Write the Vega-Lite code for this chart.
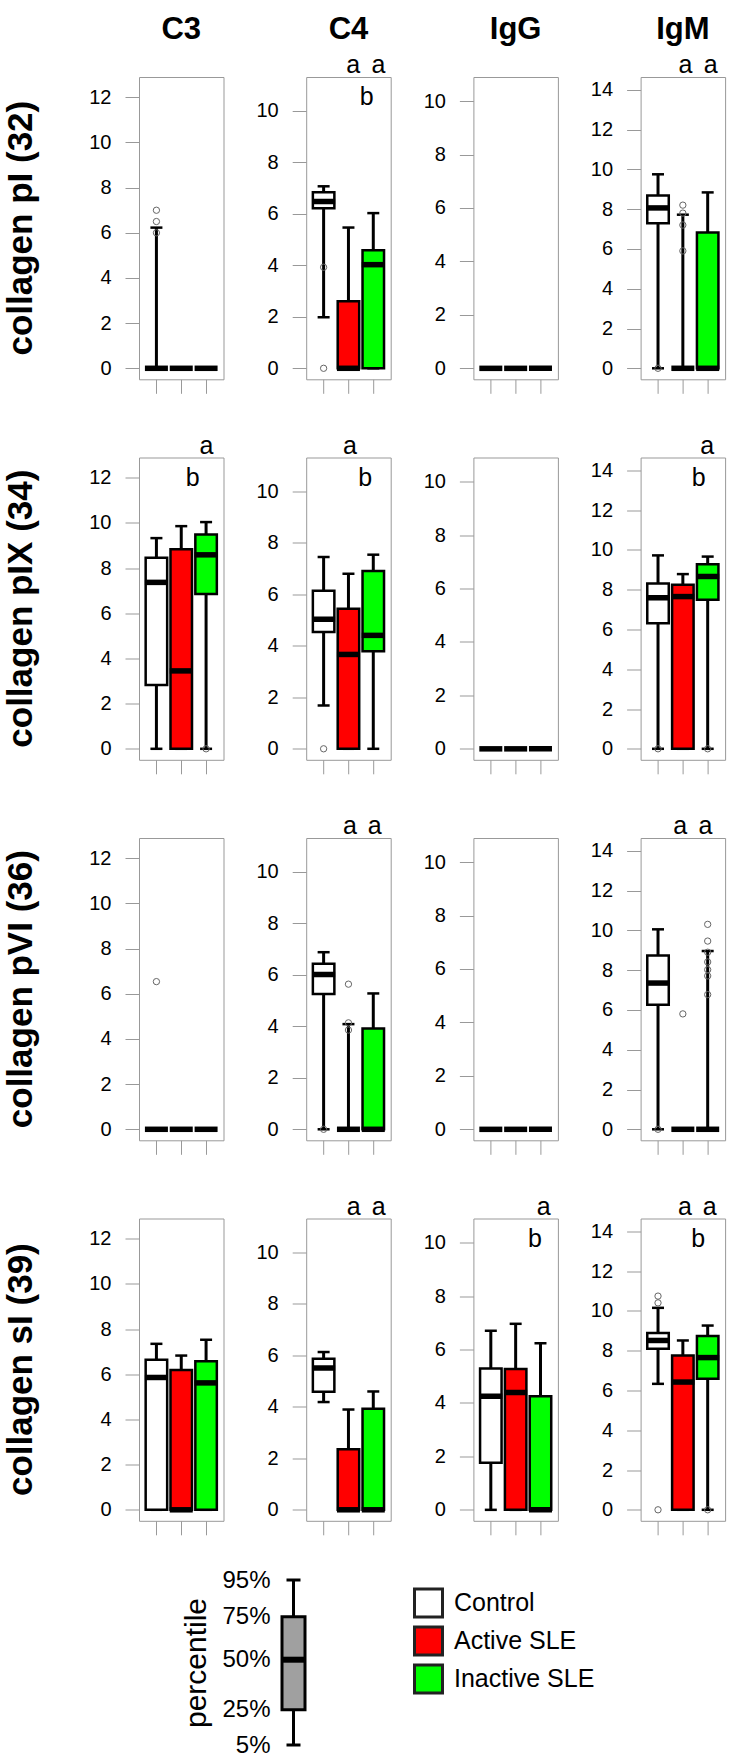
{
  "$schema": "https://vega.github.io/schema/vega-lite/v6.json",
  "padding": {"left": 3, "top": 14, "right": 4, "bottom": 8},
  "spacing": 32,
  "config": {
    "font": "Liberation Sans",
    "view": {"stroke": "#999999", "strokeWidth": 1},
    "axis": {"grid": false, "domain": false, "tickColor": "#999999", "tickSize": 14, "labelFontSize": 20, "labelColor": "black", "labelPadding": 14, "labelFont": "Liberation Sans"},
    "header": {"labelFont": "Liberation Sans", "labelColor": "black"},
    "tick": {"opacity": 1},
    "point": {"opacity": 1}
  },
  "vconcat": [
    {
      "data": {"values": [
        {"k":"box","ab":"C3","c":"collagen pI (32)","grp":"Control","x":1,"lo":0,"q1":0,"med":0,"q3":0,"hi":6.23},
        {"k":"box","ab":"C3","c":"collagen pI (32)","grp":"Active SLE","x":2,"lo":0,"q1":0,"med":0,"q3":0,"hi":0},
        {"k":"box","ab":"C3","c":"collagen pI (32)","grp":"Inactive SLE","x":3,"lo":0,"q1":0,"med":0,"q3":0,"hi":0},
        {"k":"box","ab":"C3","c":"collagen pIX (34)","grp":"Control","x":1,"lo":0,"q1":2.82,"med":7.37,"q3":8.46,"hi":9.33},
        {"k":"box","ab":"C3","c":"collagen pIX (34)","grp":"Active SLE","x":2,"lo":0,"q1":0,"med":3.45,"q3":8.84,"hi":9.86},
        {"k":"box","ab":"C3","c":"collagen pIX (34)","grp":"Inactive SLE","x":3,"lo":0,"q1":6.85,"med":8.59,"q3":9.49,"hi":10.04},
        {"k":"box","ab":"C3","c":"collagen pVI (36)","grp":"Control","x":1,"lo":0,"q1":0,"med":0,"q3":0,"hi":0},
        {"k":"box","ab":"C3","c":"collagen pVI (36)","grp":"Active SLE","x":2,"lo":0,"q1":0,"med":0,"q3":0,"hi":0},
        {"k":"box","ab":"C3","c":"collagen pVI (36)","grp":"Inactive SLE","x":3,"lo":0,"q1":0,"med":0,"q3":0,"hi":0},
        {"k":"box","ab":"C3","c":"collagen sI (39)","grp":"Control","x":1,"lo":0,"q1":0,"med":5.86,"q3":6.64,"hi":7.35},
        {"k":"box","ab":"C3","c":"collagen sI (39)","grp":"Active SLE","x":2,"lo":0,"q1":0,"med":0,"q3":6.19,"hi":6.83},
        {"k":"box","ab":"C3","c":"collagen sI (39)","grp":"Inactive SLE","x":3,"lo":0,"q1":0,"med":5.62,"q3":6.58,"hi":7.53},

        {"k":"box","ab":"C4","c":"collagen pI (32)","grp":"Control","x":1,"lo":1.98,"q1":6.21,"med":6.47,"q3":6.83,"hi":7.06},
        {"k":"box","ab":"C4","c":"collagen pI (32)","grp":"Active SLE","x":2,"lo":0,"q1":0,"med":0,"q3":2.6,"hi":5.46},
        {"k":"box","ab":"C4","c":"collagen pI (32)","grp":"Inactive SLE","x":3,"lo":0,"q1":0,"med":4.02,"q3":4.58,"hi":6.02},
        {"k":"box","ab":"C4","c":"collagen pIX (34)","grp":"Control","x":1,"lo":1.68,"q1":4.53,"med":5.03,"q3":6.13,"hi":7.44},
        {"k":"box","ab":"C4","c":"collagen pIX (34)","grp":"Active SLE","x":2,"lo":0,"q1":0,"med":3.66,"q3":5.43,"hi":6.79},
        {"k":"box","ab":"C4","c":"collagen pIX (34)","grp":"Inactive SLE","x":3,"lo":0,"q1":3.78,"med":4.4,"q3":6.9,"hi":7.53},
        {"k":"box","ab":"C4","c":"collagen pVI (36)","grp":"Control","x":1,"lo":0,"q1":5.25,"med":6.0,"q3":6.42,"hi":6.87},
        {"k":"box","ab":"C4","c":"collagen pVI (36)","grp":"Active SLE","x":2,"lo":0,"q1":0,"med":0,"q3":0,"hi":4.08},
        {"k":"box","ab":"C4","c":"collagen pVI (36)","grp":"Inactive SLE","x":3,"lo":0,"q1":0,"med":0,"q3":3.91,"hi":5.27},
        {"k":"box","ab":"C4","c":"collagen sI (39)","grp":"Control","x":1,"lo":4.18,"q1":4.58,"med":5.5,"q3":5.86,"hi":6.12},
        {"k":"box","ab":"C4","c":"collagen sI (39)","grp":"Active SLE","x":2,"lo":0,"q1":0,"med":0,"q3":2.35,"hi":3.89},
        {"k":"box","ab":"C4","c":"collagen sI (39)","grp":"Inactive SLE","x":3,"lo":0,"q1":0,"med":0,"q3":3.92,"hi":4.59},

        {"k":"box","ab":"IgG","c":"collagen pI (32)","grp":"Control","x":1,"lo":0,"q1":0,"med":0,"q3":0,"hi":0},
        {"k":"box","ab":"IgG","c":"collagen pI (32)","grp":"Active SLE","x":2,"lo":0,"q1":0,"med":0,"q3":0,"hi":0},
        {"k":"box","ab":"IgG","c":"collagen pI (32)","grp":"Inactive SLE","x":3,"lo":0,"q1":0,"med":0,"q3":0,"hi":0},
        {"k":"box","ab":"IgG","c":"collagen pIX (34)","grp":"Control","x":1,"lo":0,"q1":0,"med":0,"q3":0,"hi":0},
        {"k":"box","ab":"IgG","c":"collagen pIX (34)","grp":"Active SLE","x":2,"lo":0,"q1":0,"med":0,"q3":0,"hi":0},
        {"k":"box","ab":"IgG","c":"collagen pIX (34)","grp":"Inactive SLE","x":3,"lo":0,"q1":0,"med":0,"q3":0,"hi":0},
        {"k":"box","ab":"IgG","c":"collagen pVI (36)","grp":"Control","x":1,"lo":0,"q1":0,"med":0,"q3":0,"hi":0},
        {"k":"box","ab":"IgG","c":"collagen pVI (36)","grp":"Active SLE","x":2,"lo":0,"q1":0,"med":0,"q3":0,"hi":0},
        {"k":"box","ab":"IgG","c":"collagen pVI (36)","grp":"Inactive SLE","x":3,"lo":0,"q1":0,"med":0,"q3":0,"hi":0},
        {"k":"box","ab":"IgG","c":"collagen sI (39)","grp":"Control","x":1,"lo":0,"q1":1.76,"med":4.25,"q3":5.29,"hi":6.7},
        {"k":"box","ab":"IgG","c":"collagen sI (39)","grp":"Active SLE","x":2,"lo":0,"q1":0,"med":4.39,"q3":5.27,"hi":6.96},
        {"k":"box","ab":"IgG","c":"collagen sI (39)","grp":"Inactive SLE","x":3,"lo":0,"q1":0,"med":0,"q3":4.25,"hi":6.23},

        {"k":"box","ab":"IgM","c":"collagen pI (32)","grp":"Control","x":1,"lo":0,"q1":7.29,"med":8.06,"q3":8.68,"hi":9.75},
        {"k":"box","ab":"IgM","c":"collagen pI (32)","grp":"Active SLE","x":2,"lo":0,"q1":0,"med":0,"q3":0,"hi":7.72},
        {"k":"box","ab":"IgM","c":"collagen pI (32)","grp":"Inactive SLE","x":3,"lo":0,"q1":0,"med":0,"q3":6.83,"hi":8.84},
        {"k":"box","ab":"IgM","c":"collagen pIX (34)","grp":"Control","x":1,"lo":0,"q1":6.31,"med":7.59,"q3":8.31,"hi":9.72},
        {"k":"box","ab":"IgM","c":"collagen pIX (34)","grp":"Active SLE","x":2,"lo":0,"q1":0,"med":7.65,"q3":8.24,"hi":8.78},
        {"k":"box","ab":"IgM","c":"collagen pIX (34)","grp":"Inactive SLE","x":3,"lo":0,"q1":7.49,"med":8.66,"q3":9.28,"hi":9.66},
        {"k":"box","ab":"IgM","c":"collagen pVI (36)","grp":"Control","x":1,"lo":0,"q1":6.26,"med":7.35,"q3":8.73,"hi":10.05},
        {"k":"box","ab":"IgM","c":"collagen pVI (36)","grp":"Active SLE","x":2,"lo":0,"q1":0,"med":0,"q3":0,"hi":0},
        {"k":"box","ab":"IgM","c":"collagen pVI (36)","grp":"Inactive SLE","x":3,"lo":0,"q1":0,"med":0,"q3":0,"hi":8.96},
        {"k":"box","ab":"IgM","c":"collagen sI (39)","grp":"Control","x":1,"lo":6.33,"q1":8.09,"med":8.51,"q3":8.88,"hi":10.15},
        {"k":"box","ab":"IgM","c":"collagen sI (39)","grp":"Active SLE","x":2,"lo":0,"q1":0,"med":6.42,"q3":7.76,"hi":8.51},
        {"k":"box","ab":"IgM","c":"collagen sI (39)","grp":"Inactive SLE","x":3,"lo":0,"q1":6.58,"med":7.65,"q3":8.73,"hi":9.26},

        {"k":"out","ab":"C3","c":"collagen pI (32)","x":1,"v":7.0},
        {"k":"out","ab":"C3","c":"collagen pI (32)","x":1,"v":6.5},
        {"k":"out","ab":"C3","c":"collagen pI (32)","x":1,"v":6.0},
        {"k":"out","ab":"C3","c":"collagen pIX (34)","x":3,"v":0},
        {"k":"out","ab":"C3","c":"collagen pVI (36)","x":1,"v":6.54},
        {"k":"out","ab":"C4","c":"collagen pI (32)","x":1,"v":3.92},
        {"k":"out","ab":"C4","c":"collagen pI (32)","x":1,"v":0},
        {"k":"out","ab":"C4","c":"collagen pIX (34)","x":1,"v":0},
        {"k":"out","ab":"C4","c":"collagen pVI (36)","x":1,"v":0},
        {"k":"out","ab":"C4","c":"collagen pVI (36)","x":2,"v":5.63},
        {"k":"out","ab":"C4","c":"collagen pVI (36)","x":2,"v":4.13},
        {"k":"out","ab":"C4","c":"collagen pVI (36)","x":2,"v":3.85},
        {"k":"out","ab":"IgM","c":"collagen pI (32)","x":1,"v":0},
        {"k":"out","ab":"IgM","c":"collagen pI (32)","x":2,"v":8.2},
        {"k":"out","ab":"IgM","c":"collagen pI (32)","x":2,"v":7.8},
        {"k":"out","ab":"IgM","c":"collagen pI (32)","x":2,"v":7.2},
        {"k":"out","ab":"IgM","c":"collagen pI (32)","x":2,"v":5.9},
        {"k":"out","ab":"IgM","c":"collagen pIX (34)","x":1,"v":0},
        {"k":"out","ab":"IgM","c":"collagen pIX (34)","x":3,"v":0},
        {"k":"out","ab":"IgM","c":"collagen pVI (36)","x":1,"v":0},
        {"k":"out","ab":"IgM","c":"collagen pVI (36)","x":2,"v":5.8},
        {"k":"out","ab":"IgM","c":"collagen pVI (36)","x":3,"v":10.3},
        {"k":"out","ab":"IgM","c":"collagen pVI (36)","x":3,"v":9.46},
        {"k":"out","ab":"IgM","c":"collagen pVI (36)","x":3,"v":8.9},
        {"k":"out","ab":"IgM","c":"collagen pVI (36)","x":3,"v":8.41},
        {"k":"out","ab":"IgM","c":"collagen pVI (36)","x":3,"v":8.02},
        {"k":"out","ab":"IgM","c":"collagen pVI (36)","x":3,"v":7.71},
        {"k":"out","ab":"IgM","c":"collagen pVI (36)","x":3,"v":6.77},
        {"k":"out","ab":"IgM","c":"collagen sI (39)","x":1,"v":10.74},
        {"k":"out","ab":"IgM","c":"collagen sI (39)","x":1,"v":10.4},
        {"k":"out","ab":"IgM","c":"collagen sI (39)","x":1,"v":0},
        {"k":"out","ab":"IgM","c":"collagen sI (39)","x":3,"v":0},

        {"k":"let","ab":"C4","c":"collagen pI (32)","x":2.19,"v":11.45,"t":"a"},
        {"k":"let","ab":"C4","c":"collagen pI (32)","x":3.21,"v":11.45,"t":"a"},
        {"k":"let","ab":"C4","c":"collagen pI (32)","x":2.73,"v":10.2,"t":"b"},
        {"k":"let","ab":"IgM","c":"collagen pI (32)","x":2.1,"v":14.83,"t":"a"},
        {"k":"let","ab":"IgM","c":"collagen pI (32)","x":3.12,"v":14.83,"t":"a"},
        {"k":"let","ab":"C3","c":"collagen pIX (34)","x":3.01,"v":13.07,"t":"a"},
        {"k":"let","ab":"C3","c":"collagen pIX (34)","x":2.46,"v":11.66,"t":"b"},
        {"k":"let","ab":"C4","c":"collagen pIX (34)","x":2.06,"v":11.45,"t":"a"},
        {"k":"let","ab":"C4","c":"collagen pIX (34)","x":2.67,"v":10.2,"t":"b"},
        {"k":"let","ab":"IgM","c":"collagen pIX (34)","x":2.98,"v":14.83,"t":"a"},
        {"k":"let","ab":"IgM","c":"collagen pIX (34)","x":2.64,"v":13.22,"t":"b"},
        {"k":"let","ab":"C4","c":"collagen pVI (36)","x":2.06,"v":11.45,"t":"a"},
        {"k":"let","ab":"C4","c":"collagen pVI (36)","x":3.06,"v":11.45,"t":"a"},
        {"k":"let","ab":"IgM","c":"collagen pVI (36)","x":1.89,"v":14.83,"t":"a"},
        {"k":"let","ab":"IgM","c":"collagen pVI (36)","x":2.91,"v":14.83,"t":"a"},
        {"k":"let","ab":"C4","c":"collagen sI (39)","x":2.21,"v":11.45,"t":"a"},
        {"k":"let","ab":"C4","c":"collagen sI (39)","x":3.22,"v":11.45,"t":"a"},
        {"k":"let","ab":"IgG","c":"collagen sI (39)","x":3.13,"v":11.04,"t":"a"},
        {"k":"let","ab":"IgG","c":"collagen sI (39)","x":2.78,"v":9.84,"t":"b"},
        {"k":"let","ab":"IgM","c":"collagen sI (39)","x":2.08,"v":14.83,"t":"a"},
        {"k":"let","ab":"IgM","c":"collagen sI (39)","x":3.08,"v":14.83,"t":"a"},
        {"k":"let","ab":"IgM","c":"collagen sI (39)","x":2.62,"v":13.22,"t":"b"}
      ]},
      "bounds": "flush",
      "spacing": 167.2,
      "hconcat": [
        {
          "transform": [{"filter": "datum.ab == 'C3'"}],
          "bounds": "flush",
          "spacing": {"row": 77.5, "column": 0},
          "resolve": {"axis": {"x": "independent"}},
          "facet": {
            "row": {"field": "c", "type": "nominal", "title": null, "sort": ["collagen pI (32)", "collagen pIX (34)", "collagen pVI (36)", "collagen sI (39)"], "header": {"labelAngle": -90, "labelFontSize": 35, "labelFontWeight": "bold", "labelPadding": 33}},
            "column": {"field": "ab", "type": "nominal", "title": null, "header": {"labelFontSize": 31, "labelFontWeight": "bold", "labelPadding": 31}}
          },
          "spec": {
            "width": 84.5, "height": 302.3,
            "layer": [
              {"transform": [{"filter": "datum.k == 'box'"}], "mark": {"type": "rule", "strokeWidth": 3, "color": "black"},
               "encoding": {"x": {"field": "x", "type": "quantitative", "title": null, "scale": {"domain": [0.5, 3.5], "nice": false, "zero": false}, "axis": {"values": [1, 2, 3], "labels": false}},
                            "y": {"field": "lo", "type": "quantitative", "title": null, "scale": {"domain": [-0.487, 12.9], "nice": false, "zero": false}, "axis": {"values": [0, 2, 4, 6, 8, 10, 12]}}, "y2": {"field": "hi"}}},
              {"transform": [{"filter": "datum.k == 'box'"}], "mark": {"type": "tick", "orient": "horizontal", "size": 12, "thickness": 2.5, "color": "black"},
               "encoding": {"x": {"field": "x", "type": "quantitative", "title": null},
                            "y": {"field": "hi", "type": "quantitative", "title": null}}},
              {"transform": [{"filter": "datum.k == 'box'"}], "mark": {"type": "tick", "orient": "horizontal", "size": 12, "thickness": 2.5, "color": "black"},
               "encoding": {"x": {"field": "x", "type": "quantitative", "title": null},
                            "y": {"field": "lo", "type": "quantitative", "title": null}}},
              {"transform": [{"filter": "datum.k == 'box'"}], "mark": {"type": "bar", "size": 21.5, "stroke": "black", "strokeWidth": 2.5},
               "encoding": {"x": {"field": "x", "type": "quantitative", "title": null},
                            "y": {"field": "q1", "type": "quantitative", "title": null}, "y2": {"field": "q3"},
                            "fill": {"field": "grp", "type": "nominal", "scale": {"domain": ["Control", "Active SLE", "Inactive SLE"], "range": ["#ffffff", "#ff0000", "#00ff00"]},
                                     "legend": {"orient": "none", "legendX": 274, "legendY": 1510.5, "title": null, "symbolType": "square", "symbolSize": 784, "symbolStrokeWidth": 3, "symbolStrokeColor": "#222222", "labelFontSize": 25, "labelColor": "black", "labelOffset": 10, "rowPadding": -3, "labelFont": "Liberation Sans"}}}},
              {"transform": [{"filter": "datum.k == 'box'"}], "mark": {"type": "tick", "orient": "horizontal", "size": 23, "thickness": 5.5, "color": "black"},
               "encoding": {"x": {"field": "x", "type": "quantitative", "title": null},
                            "y": {"field": "med", "type": "quantitative", "title": null}}},
              {"transform": [{"filter": "datum.k == 'out'"}], "mark": {"type": "point", "shape": "circle", "filled": false, "color": "#666666", "strokeWidth": 1, "size": 40},
               "encoding": {"x": {"field": "x", "type": "quantitative", "title": null},
                            "y": {"field": "v", "type": "quantitative", "title": null}}},
              {"transform": [{"filter": "datum.k == 'let'"}], "mark": {"type": "text", "fontSize": 25, "baseline": "alphabetic", "color": "black"},
               "encoding": {"x": {"field": "x", "type": "quantitative", "title": null},
                            "y": {"field": "v", "type": "quantitative", "title": null}, "text": {"field": "t"}}}
            ]
          }
        },
        {
          "transform": [{"filter": "datum.ab == 'C4'"}],
          "bounds": "flush",
          "spacing": {"row": 77.5, "column": 0},
          "resolve": {"axis": {"x": "independent"}},
          "facet": {
            "row": {"field": "c", "type": "nominal", "title": null, "sort": ["collagen pI (32)", "collagen pIX (34)", "collagen pVI (36)", "collagen sI (39)"], "header": {"labels": false}},
            "column": {"field": "ab", "type": "nominal", "title": null, "header": {"labelFontSize": 31, "labelFontWeight": "bold", "labelPadding": 31}}
          },
          "spec": {
            "width": 84.5, "height": 302.3,
            "layer": [
              {"transform": [{"filter": "datum.k == 'box'"}], "mark": {"type": "rule", "strokeWidth": 3, "color": "black"},
               "encoding": {"x": {"field": "x", "type": "quantitative", "title": null, "scale": {"domain": [0.5, 3.5], "nice": false, "zero": false}, "axis": {"values": [1, 2, 3], "labels": false}},
                            "y": {"field": "lo", "type": "quantitative", "title": null, "scale": {"domain": [-0.427, 11.3], "nice": false, "zero": false}, "axis": {"values": [0, 2, 4, 6, 8, 10]}}, "y2": {"field": "hi"}}},
              {"transform": [{"filter": "datum.k == 'box'"}], "mark": {"type": "tick", "orient": "horizontal", "size": 12, "thickness": 2.5, "color": "black"},
               "encoding": {"x": {"field": "x", "type": "quantitative", "title": null},
                            "y": {"field": "hi", "type": "quantitative", "title": null}}},
              {"transform": [{"filter": "datum.k == 'box'"}], "mark": {"type": "tick", "orient": "horizontal", "size": 12, "thickness": 2.5, "color": "black"},
               "encoding": {"x": {"field": "x", "type": "quantitative", "title": null},
                            "y": {"field": "lo", "type": "quantitative", "title": null}}},
              {"transform": [{"filter": "datum.k == 'box'"}], "mark": {"type": "bar", "size": 21.5, "stroke": "black", "strokeWidth": 2.5},
               "encoding": {"x": {"field": "x", "type": "quantitative", "title": null},
                            "y": {"field": "q1", "type": "quantitative", "title": null}, "y2": {"field": "q3"},
                            "fill": {"field": "grp", "type": "nominal", "scale": {"domain": ["Control", "Active SLE", "Inactive SLE"], "range": ["#ffffff", "#ff0000", "#00ff00"]},
                                     "legend": {"orient": "none", "legendX": 274, "legendY": 1510.5, "title": null, "symbolType": "square", "symbolSize": 784, "symbolStrokeWidth": 3, "symbolStrokeColor": "#222222", "labelFontSize": 25, "labelColor": "black", "labelOffset": 10, "rowPadding": -3, "labelFont": "Liberation Sans"}}}},
              {"transform": [{"filter": "datum.k == 'box'"}], "mark": {"type": "tick", "orient": "horizontal", "size": 23, "thickness": 5.5, "color": "black"},
               "encoding": {"x": {"field": "x", "type": "quantitative", "title": null},
                            "y": {"field": "med", "type": "quantitative", "title": null}}},
              {"transform": [{"filter": "datum.k == 'out'"}], "mark": {"type": "point", "shape": "circle", "filled": false, "color": "#666666", "strokeWidth": 1, "size": 40},
               "encoding": {"x": {"field": "x", "type": "quantitative", "title": null},
                            "y": {"field": "v", "type": "quantitative", "title": null}}},
              {"transform": [{"filter": "datum.k == 'let'"}], "mark": {"type": "text", "fontSize": 25, "baseline": "alphabetic", "color": "black"},
               "encoding": {"x": {"field": "x", "type": "quantitative", "title": null},
                            "y": {"field": "v", "type": "quantitative", "title": null}, "text": {"field": "t"}}}
            ]
          }
        },
        {
          "transform": [{"filter": "datum.ab == 'IgG'"}],
          "bounds": "flush",
          "spacing": {"row": 77.5, "column": 0},
          "resolve": {"axis": {"x": "independent"}},
          "facet": {
            "row": {"field": "c", "type": "nominal", "title": null, "sort": ["collagen pI (32)", "collagen pIX (34)", "collagen pVI (36)", "collagen sI (39)"], "header": {"labels": false}},
            "column": {"field": "ab", "type": "nominal", "title": null, "header": {"labelFontSize": 31, "labelFontWeight": "bold", "labelPadding": 31}}
          },
          "spec": {
            "width": 84.5, "height": 302.3,
            "layer": [
              {"transform": [{"filter": "datum.k == 'box'"}], "mark": {"type": "rule", "strokeWidth": 3, "color": "black"},
               "encoding": {"x": {"field": "x", "type": "quantitative", "title": null, "scale": {"domain": [0.5, 3.5], "nice": false, "zero": false}, "axis": {"values": [1, 2, 3], "labels": false}},
                            "y": {"field": "lo", "type": "quantitative", "title": null, "scale": {"domain": [-0.41, 10.9], "nice": false, "zero": false}, "axis": {"values": [0, 2, 4, 6, 8, 10]}}, "y2": {"field": "hi"}}},
              {"transform": [{"filter": "datum.k == 'box'"}], "mark": {"type": "tick", "orient": "horizontal", "size": 12, "thickness": 2.5, "color": "black"},
               "encoding": {"x": {"field": "x", "type": "quantitative", "title": null},
                            "y": {"field": "hi", "type": "quantitative", "title": null}}},
              {"transform": [{"filter": "datum.k == 'box'"}], "mark": {"type": "tick", "orient": "horizontal", "size": 12, "thickness": 2.5, "color": "black"},
               "encoding": {"x": {"field": "x", "type": "quantitative", "title": null},
                            "y": {"field": "lo", "type": "quantitative", "title": null}}},
              {"transform": [{"filter": "datum.k == 'box'"}], "mark": {"type": "bar", "size": 21.5, "stroke": "black", "strokeWidth": 2.5},
               "encoding": {"x": {"field": "x", "type": "quantitative", "title": null},
                            "y": {"field": "q1", "type": "quantitative", "title": null}, "y2": {"field": "q3"},
                            "fill": {"field": "grp", "type": "nominal", "scale": {"domain": ["Control", "Active SLE", "Inactive SLE"], "range": ["#ffffff", "#ff0000", "#00ff00"]},
                                     "legend": {"orient": "none", "legendX": 274, "legendY": 1510.5, "title": null, "symbolType": "square", "symbolSize": 784, "symbolStrokeWidth": 3, "symbolStrokeColor": "#222222", "labelFontSize": 25, "labelColor": "black", "labelOffset": 10, "rowPadding": -3, "labelFont": "Liberation Sans"}}}},
              {"transform": [{"filter": "datum.k == 'box'"}], "mark": {"type": "tick", "orient": "horizontal", "size": 23, "thickness": 5.5, "color": "black"},
               "encoding": {"x": {"field": "x", "type": "quantitative", "title": null},
                            "y": {"field": "med", "type": "quantitative", "title": null}}},
              {"transform": [{"filter": "datum.k == 'out'"}], "mark": {"type": "point", "shape": "circle", "filled": false, "color": "#666666", "strokeWidth": 1, "size": 40},
               "encoding": {"x": {"field": "x", "type": "quantitative", "title": null},
                            "y": {"field": "v", "type": "quantitative", "title": null}}},
              {"transform": [{"filter": "datum.k == 'let'"}], "mark": {"type": "text", "fontSize": 25, "baseline": "alphabetic", "color": "black"},
               "encoding": {"x": {"field": "x", "type": "quantitative", "title": null},
                            "y": {"field": "v", "type": "quantitative", "title": null}, "text": {"field": "t"}}}
            ]
          }
        },
        {
          "transform": [{"filter": "datum.ab == 'IgM'"}],
          "bounds": "flush",
          "spacing": {"row": 77.5, "column": 0},
          "resolve": {"axis": {"x": "independent"}},
          "facet": {
            "row": {"field": "c", "type": "nominal", "title": null, "sort": ["collagen pI (32)", "collagen pIX (34)", "collagen pVI (36)", "collagen sI (39)"], "header": {"labels": false}},
            "column": {"field": "ab", "type": "nominal", "title": null, "header": {"labelFontSize": 31, "labelFontWeight": "bold", "labelPadding": 31}}
          },
          "spec": {
            "width": 84.5, "height": 302.3,
            "layer": [
              {"transform": [{"filter": "datum.k == 'box'"}], "mark": {"type": "rule", "strokeWidth": 3, "color": "black"},
               "encoding": {"x": {"field": "x", "type": "quantitative", "title": null, "scale": {"domain": [0.5, 3.5], "nice": false, "zero": false}, "axis": {"values": [1, 2, 3], "labels": false}},
                            "y": {"field": "lo", "type": "quantitative", "title": null, "scale": {"domain": [-0.553, 14.64], "nice": false, "zero": false}, "axis": {"values": [0, 2, 4, 6, 8, 10, 12, 14]}}, "y2": {"field": "hi"}}},
              {"transform": [{"filter": "datum.k == 'box'"}], "mark": {"type": "tick", "orient": "horizontal", "size": 12, "thickness": 2.5, "color": "black"},
               "encoding": {"x": {"field": "x", "type": "quantitative", "title": null},
                            "y": {"field": "hi", "type": "quantitative", "title": null}}},
              {"transform": [{"filter": "datum.k == 'box'"}], "mark": {"type": "tick", "orient": "horizontal", "size": 12, "thickness": 2.5, "color": "black"},
               "encoding": {"x": {"field": "x", "type": "quantitative", "title": null},
                            "y": {"field": "lo", "type": "quantitative", "title": null}}},
              {"transform": [{"filter": "datum.k == 'box'"}], "mark": {"type": "bar", "size": 21.5, "stroke": "black", "strokeWidth": 2.5},
               "encoding": {"x": {"field": "x", "type": "quantitative", "title": null},
                            "y": {"field": "q1", "type": "quantitative", "title": null}, "y2": {"field": "q3"},
                            "fill": {"field": "grp", "type": "nominal", "scale": {"domain": ["Control", "Active SLE", "Inactive SLE"], "range": ["#ffffff", "#ff0000", "#00ff00"]},
                                     "legend": {"orient": "none", "legendX": 274, "legendY": 1510.5, "title": null, "symbolType": "square", "symbolSize": 784, "symbolStrokeWidth": 3, "symbolStrokeColor": "#222222", "labelFontSize": 25, "labelColor": "black", "labelOffset": 10, "rowPadding": -3, "labelFont": "Liberation Sans"}}}},
              {"transform": [{"filter": "datum.k == 'box'"}], "mark": {"type": "tick", "orient": "horizontal", "size": 23, "thickness": 5.5, "color": "black"},
               "encoding": {"x": {"field": "x", "type": "quantitative", "title": null},
                            "y": {"field": "med", "type": "quantitative", "title": null}}},
              {"transform": [{"filter": "datum.k == 'out'"}], "mark": {"type": "point", "shape": "circle", "filled": false, "color": "#666666", "strokeWidth": 1, "size": 40},
               "encoding": {"x": {"field": "x", "type": "quantitative", "title": null},
                            "y": {"field": "v", "type": "quantitative", "title": null}}},
              {"transform": [{"filter": "datum.k == 'let'"}], "mark": {"type": "text", "fontSize": 25, "baseline": "alphabetic", "color": "black"},
               "encoding": {"x": {"field": "x", "type": "quantitative", "title": null},
                            "y": {"field": "v", "type": "quantitative", "title": null}, "text": {"field": "t"}}}
            ]
          }
        }
      ]
    },
    {
      "spacing": 10,
      "hconcat": [
        {"data": {"values": [{}]}, "width": 32, "height": 10, "view": {"stroke": null}, "mark": {"type": "point", "opacity": 0}},
        {
          "data": {"values": [{"x": 0, "p5": 0, "p25": 35.3, "p50": 85.3, "p75": 128.3, "p95": 165}]},
          "width": 23, "height": 165,
          "view": {"stroke": null},
          "layer": [
            {"mark": {"type": "rule", "strokeWidth": 3, "color": "black"},
             "encoding": {"x": {"field": "x", "type": "quantitative", "title": null, "scale": {"domain": [-1, 1]}, "axis": null},
                          "y": {"field": "p5", "type": "quantitative", "title": "percentile", "scale": {"domain": [0, 165], "nice": false},
                                "axis": {"values": [0, 35.3, 85.3, 128.3, 165], "labelExpr": "datum.value < 10 ? '5%' : datum.value < 50 ? '25%' : datum.value < 100 ? '50%' : datum.value < 150 ? '75%' : '95%'", "titleFontSize": 30, "titleFontWeight": "normal", "titleColor": "black", "titlePadding": 10, "labelFontSize": 24, "ticks": false, "labelPadding": 12, "labelOverlap": false, "labelFlush": false}},
                          "y2": {"field": "p95"}}},
            {"mark": {"type": "tick", "orient": "horizontal", "size": 14, "thickness": 3, "color": "black"},
             "encoding": {"x": {"field": "x", "type": "quantitative", "title": null},
                          "y": {"field": "p5", "type": "quantitative", "title": "percentile"}}},
            {"mark": {"type": "tick", "orient": "horizontal", "size": 14, "thickness": 3, "color": "black"},
             "encoding": {"x": {"field": "x", "type": "quantitative", "title": null},
                          "y": {"field": "p95", "type": "quantitative", "title": "percentile"}}},
            {"mark": {"type": "bar", "size": 23, "fill": "#a0a0a0", "stroke": "black", "strokeWidth": 3},
             "encoding": {"x": {"field": "x", "type": "quantitative", "title": null},
                          "y": {"field": "p25", "type": "quantitative", "title": "percentile"}, "y2": {"field": "p75"}}},
            {"mark": {"type": "tick", "orient": "horizontal", "size": 24, "thickness": 6, "color": "black"},
             "encoding": {"x": {"field": "x", "type": "quantitative", "title": null},
                          "y": {"field": "p50", "type": "quantitative", "title": "percentile"}}}
          ]
        }
      ]
    }
  ]
}
